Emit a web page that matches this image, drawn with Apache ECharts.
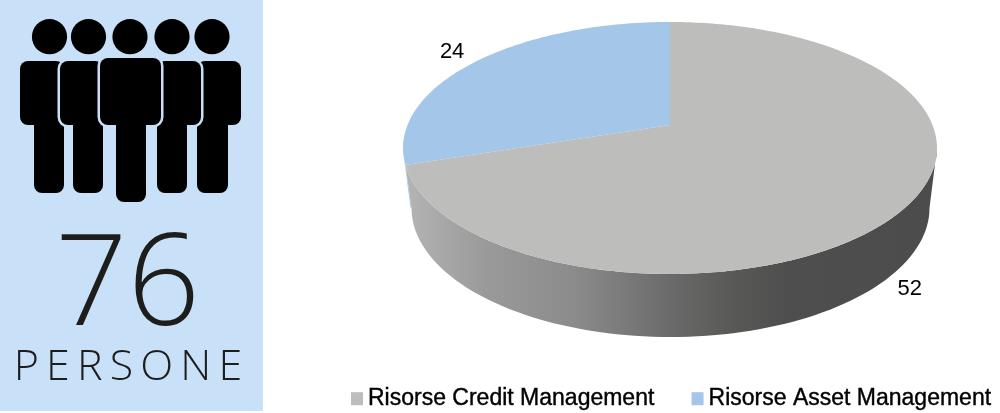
<!DOCTYPE html>
<html><head><meta charset="utf-8">
<style>html,body{margin:0;padding:0;background:#fff}#c{width:1000px;height:413px}</style>
<script src="https://cdn.jsdelivr.net/npm/echarts@6/dist/echarts.min.js"></script>
</head><body><div id="c"></div>
<script>
// ---- data ----
const sliceNames = ['Risorse Credit Management', 'Risorse Asset Management'];
const sliceValues = [52, 24];
const totalLabel = '76';
const unitLabel = 'P\u2006E\u2006R\u2006S\u2006O\u2006N\u2006E';

// ---- style ----
const sliceColors = ['#bdbdbb', '#a4c6e9'];
const labelOffsets = [[-17, 106], [1, -24]];
const panel = '#c9e1f8';
const ink = '#1d1d1b';
const P = {cx: 670, cy: 125, a: 262.5, b: 121.8, k: 0.1825, squash: 1.35,
           bx: 670.5, by: 208, brx: 259, bry: 129, rightExtreme: 100.5};

const total = sliceValues.reduce((s, v) => s + v, 0);
const rad = d => d * Math.PI / 180;
// data angle (clockwise from 12 o'clock) -> foreshortened drawing angle
function warp(deg) {
  let r = Math.atan2(Math.sin(rad(deg)) * P.squash, Math.cos(rad(deg))) * 180 / Math.PI;
  if (r < 0) r += 360;
  if (deg >= 360) r = 360;
  return r;
}
function topPoint(deg) {
  const u = Math.sin(rad(deg)), v = -Math.cos(rad(deg)), w = 1 - P.k * v;
  return [P.cx + P.a * u / w, P.cy + P.b * v / w];
}
function bottomPoint(phi) { // phi: 0 = right, 90 = front, 180 = left
  return [P.bx + P.brx * Math.cos(rad(phi)), P.by + P.bry * Math.sin(rad(phi))];
}
function arc(from, to) {
  const pts = [], n = Math.max(2, Math.ceil(Math.abs(to - from)));
  for (let i = 0; i <= n; i++) pts.push(topPoint(from + (to - from) * i / n));
  return pts;
}
const sideGradient = new echarts.graphic.LinearGradient(0, 0, 1, 0, [
  {offset: 0, color: '#b4b4b4'}, {offset: 0.15, color: '#9a9a9a'}, {offset: 0.32, color: '#8a8b8a'},
  {offset: 0.5, color: '#6a6a6a'}, {offset: 0.62, color: '#585856'}, {offset: 0.72, color: '#4e4e4e'},
  {offset: 1, color: '#4c4c4c'}
]);

function renderSlice(params, api) {
  const i = params.seriesIndex;
  const before = sliceValues.slice(0, i).reduce((s, v) => s + v, 0);
  const value = api.value(0);
  const d0 = before / total * 360, d1 = (before + value) / total * 360;
  const a0 = warp(d0), a1 = warp(d1), mid = warp((d0 + d1) / 2);
  const children = [];
  if (a0 < 180) {            // wall of a slice that covers the front of the pie
    const pts = arc(Math.max(a0, P.rightExtreme), a1);
    for (let phi = 180; phi >= 0; phi -= 2) pts.push(bottomPoint(phi));
    children.push({type: 'polygon', shape: {points: pts}, style: {fill: sideGradient}});
  } else {                   // thin rim left of the wall
    const s = topPoint(a0), o = topPoint(a0 + 2), b = bottomPoint(180);
    children.push({type: 'polygon', shape: {points: [s, o, [b[0] - 1, b[1]], b]},
                   style: {fill: api.visual('color')}});
  }
  const face = [[P.cx, P.cy]].concat(arc(a0, a1));
  children.push({type: 'polygon', shape: {points: face}, style: {fill: api.visual('color')}});
  const c = topPoint(mid);
  children.push({type: 'text', style: {
    text: String(value), x: c[0] + labelOffsets[i][0], y: c[1] + labelOffsets[i][1],
    fill: '#000', font: '22px "Liberation Sans"', textAlign: 'center', textVerticalAlign: 'middle'}});
  return {type: 'group', children};
}

const series = sliceNames.map((name, i) => ({
  type: 'custom', name, coordinateSystem: 'none', z: 10 - i * 5,
  itemStyle: {color: sliceColors[i]},
  renderItem: renderSlice, data: [[sliceValues[i]]], silent: true, animation: false
}));

// person silhouettes: [torso x, torso width, leg x, leg width, top, bottom]
const people = [
  [20, 44, 34, 30, 61, 193], [197, 44, 197, 31, 61, 193],
  [60, 43, 73, 30, 61, 193], [157, 44, 157, 30, 61, 193],
  [100, 61, 116, 30, 58, 202]
];
const heads = [49.5, 88.5, 130, 172, 212];
const graphics = [{type: 'rect', shape: {x: 0, y: 0, width: 263, height: 411}, style: {fill: panel}, z: 0}];
heads.forEach(x => graphics.push({type: 'circle', shape: {cx: x, cy: 36.7, r: 17.6}, style: {fill: '#000'}, z: 1}));
people.forEach((p, i) => {
  const torso = {x: p[0], y: p[4], width: p[1], height: 125 - p[4], r: 8};
  const leg = {x: p[2], y: 110, width: p[3], height: p[5] - 110, r: 8};
  const z = 2 + i;
  if (i > 1) {
    graphics.push({type: 'rect', shape: torso, style: {fill: panel, stroke: panel, lineWidth: 5}, z});
    graphics.push({type: 'rect', shape: leg, style: {fill: panel, stroke: panel, lineWidth: 5}, z});
  }
  graphics.push({type: 'rect', shape: torso, style: {fill: '#000'}, z});
  graphics.push({type: 'rect', shape: leg, style: {fill: '#000'}, z});
});
graphics.push({type: 'text', z: 9, style: {text: totalLabel, x: 127.5, y: 289, fill: ink,
  font: '300 127px "Open Sans"', textAlign: 'center', textVerticalAlign: 'middle'}});
graphics.push({type: 'text', z: 9, style: {text: unitLabel, x: 128, y: 367.5, fill: ink,
  font: '300 43px "Open Sans"', textAlign: 'center', textVerticalAlign: 'middle'}});

const chart = echarts.init(document.getElementById('c'), null, {renderer: 'canvas'});
chart.setOption({
  animation: false,
  tooltip: {show: false},
  legend: {
    show: true, data: sliceNames, left: 351, top: 387, padding: 0, icon: 'rect',
    itemWidth: 12, itemHeight: 13, itemGap: 37, selectedMode: false,
    textStyle: {fontFamily: 'Liberation Sans', fontSize: 23, color: '#000',
                textBorderColor: '#000', textBorderWidth: 0.4}
  },
  graphic: {elements: graphics},
  series
});
</script></body></html>
